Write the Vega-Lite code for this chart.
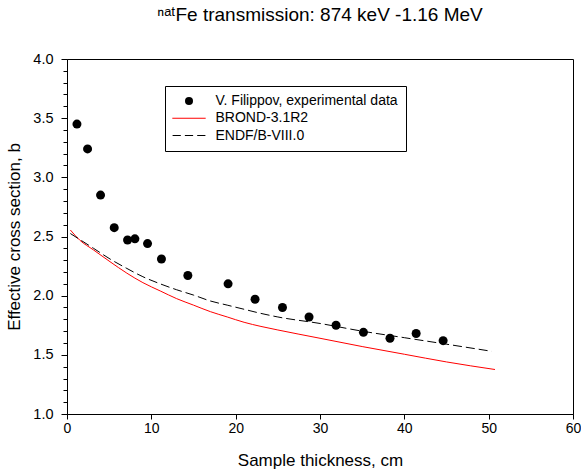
{
  "$schema": "https://vega.github.io/schema/vega-lite/v6.json",
  "autosize": "none",
  "width": 506,
  "height": 355,
  "padding": {"left": 67, "top": 59, "right": 8, "bottom": 57},
  "background": "white",
  "config": {
    "font": "Liberation Sans",
    "view": {"stroke": "black", "strokeWidth": 1},
    "axis": {"grid": false, "domainColor": "black", "tickColor": "black", "labelColor": "black", "titleColor": "black", "labelFont": "Liberation Sans", "titleFont": "Liberation Sans", "titleFontWeight": "normal", "labelFontSize": 14.5, "titleFontSize": 17, "domainWidth": 1, "tickWidth": 1}
  },
  "title": {"text": "ⁿᵃᵗFe transmission: 874 keV -1.16 MeV", "fontSize": 19, "font": "Liberation Sans", "fontWeight": "normal", "color": "black", "anchor": "middle", "frame": "group", "offset": 26},
  "data": {"values": [
    {"series": "V. Filippov, experimental data", "t": 1.18, "sigma": 3.45},
    {"series": "V. Filippov, experimental data", "t": 2.44, "sigma": 3.24},
    {"series": "V. Filippov, experimental data", "t": 3.98, "sigma": 2.85},
    {"series": "V. Filippov, experimental data", "t": 5.6, "sigma": 2.575},
    {"series": "V. Filippov, experimental data", "t": 7.18, "sigma": 2.47},
    {"series": "V. Filippov, experimental data", "t": 8.05, "sigma": 2.48},
    {"series": "V. Filippov, experimental data", "t": 9.55, "sigma": 2.44},
    {"series": "V. Filippov, experimental data", "t": 11.2, "sigma": 2.31},
    {"series": "V. Filippov, experimental data", "t": 14.33, "sigma": 2.17},
    {"series": "V. Filippov, experimental data", "t": 19.1, "sigma": 2.1},
    {"series": "V. Filippov, experimental data", "t": 22.3, "sigma": 1.97},
    {"series": "V. Filippov, experimental data", "t": 25.55, "sigma": 1.9},
    {"series": "V. Filippov, experimental data", "t": 28.7, "sigma": 1.82},
    {"series": "V. Filippov, experimental data", "t": 31.9, "sigma": 1.75},
    {"series": "V. Filippov, experimental data", "t": 35.15, "sigma": 1.69},
    {"series": "V. Filippov, experimental data", "t": 38.3, "sigma": 1.64},
    {"series": "V. Filippov, experimental data", "t": 41.4, "sigma": 1.68},
    {"series": "V. Filippov, experimental data", "t": 44.6, "sigma": 1.62},
    {"series": "BROND-3.1R2", "t": 0.4, "sigma": 2.555},
    {"series": "BROND-3.1R2", "t": 1.5, "sigma": 2.47},
    {"series": "BROND-3.1R2", "t": 3.15, "sigma": 2.386},
    {"series": "BROND-3.1R2", "t": 5.1, "sigma": 2.287},
    {"series": "BROND-3.1R2", "t": 7.1, "sigma": 2.19},
    {"series": "BROND-3.1R2", "t": 9.0, "sigma": 2.11},
    {"series": "BROND-3.1R2", "t": 11.05, "sigma": 2.04},
    {"series": "BROND-3.1R2", "t": 13.0, "sigma": 1.975},
    {"series": "BROND-3.1R2", "t": 15.0, "sigma": 1.92},
    {"series": "BROND-3.1R2", "t": 17.0, "sigma": 1.865},
    {"series": "BROND-3.1R2", "t": 19.0, "sigma": 1.82},
    {"series": "BROND-3.1R2", "t": 21.0, "sigma": 1.775},
    {"series": "BROND-3.1R2", "t": 23.0, "sigma": 1.74},
    {"series": "BROND-3.1R2", "t": 25.0, "sigma": 1.71},
    {"series": "BROND-3.1R2", "t": 30.0, "sigma": 1.64},
    {"series": "BROND-3.1R2", "t": 35.0, "sigma": 1.57},
    {"series": "BROND-3.1R2", "t": 40.0, "sigma": 1.505},
    {"series": "BROND-3.1R2", "t": 45.0, "sigma": 1.44},
    {"series": "BROND-3.1R2", "t": 50.75, "sigma": 1.376},
    {"series": "ENDF/B-VIII.0", "t": 0.4, "sigma": 2.525},
    {"series": "ENDF/B-VIII.0", "t": 3.15, "sigma": 2.4},
    {"series": "ENDF/B-VIII.0", "t": 5.1, "sigma": 2.31},
    {"series": "ENDF/B-VIII.0", "t": 7.1, "sigma": 2.23},
    {"series": "ENDF/B-VIII.0", "t": 9.0, "sigma": 2.16},
    {"series": "ENDF/B-VIII.0", "t": 11.05, "sigma": 2.1},
    {"series": "ENDF/B-VIII.0", "t": 13.0, "sigma": 2.05},
    {"series": "ENDF/B-VIII.0", "t": 15.0, "sigma": 2.005},
    {"series": "ENDF/B-VIII.0", "t": 17.0, "sigma": 1.955},
    {"series": "ENDF/B-VIII.0", "t": 19.0, "sigma": 1.92},
    {"series": "ENDF/B-VIII.0", "t": 21.0, "sigma": 1.885},
    {"series": "ENDF/B-VIII.0", "t": 23.0, "sigma": 1.85},
    {"series": "ENDF/B-VIII.0", "t": 25.0, "sigma": 1.82},
    {"series": "ENDF/B-VIII.0", "t": 30.0, "sigma": 1.765},
    {"series": "ENDF/B-VIII.0", "t": 35.0, "sigma": 1.7},
    {"series": "ENDF/B-VIII.0", "t": 40.0, "sigma": 1.645},
    {"series": "ENDF/B-VIII.0", "t": 45.0, "sigma": 1.59},
    {"series": "ENDF/B-VIII.0", "t": 50.35, "sigma": 1.53}
  ]},
  "encoding": {
    "x": {"field": "t", "type": "quantitative", "scale": {"domain": [0, 60], "nice": false, "zero": false},
      "axis": {"title": "Sample thickness, cm", "values": [0, 10, 20, 30, 40, 50, 60], "tickSize": 5, "labelPadding": 2, "titlePadding": 17, "labelFlush": false, "labelFontSize": 14}},
    "y": {"field": "sigma", "type": "quantitative", "scale": {"domain": [1, 4], "nice": false, "zero": false},
      "axis": {"title": "Effective cross section, b", "values": [1.0, 1.1, 1.2, 1.3, 1.4, 1.5, 1.6, 1.7, 1.8, 1.9, 2.0, 2.1, 2.2, 2.3, 2.4, 2.5, 2.6, 2.7, 2.8, 2.9, 3.0, 3.1, 3.2, 3.3, 3.4, 3.5, 3.6, 3.7, 3.8, 3.9, 4.0],
        "labelExpr": "round(datum.value*10) % 5 == 0 ? format(datum.value, '.1f') : ''",
        "tickSize": {"condition": {"test": "round(datum.value*10) % 5 == 0", "value": 6}, "value": 4},
        "labelPadding": 8, "titlePadding": 9, "labelOverlap": false, "labelFlush": false}}
  },
  "layer": [
    {
      "transform": [{"filter": "datum.series == 'BROND-3.1R2'"}],
      "mark": {"type": "line", "color": "#ff0000", "strokeWidth": 1, "interpolate": "monotone"}
    },
    {
      "transform": [{"filter": "datum.series == 'ENDF/B-VIII.0'"}],
      "mark": {"type": "line", "color": "black", "strokeWidth": 1, "strokeDash": [9, 4], "interpolate": "monotone"}
    },
    {
      "transform": [{"filter": "datum.series == 'V. Filippov, experimental data'"}],
      "mark": {"type": "point", "filled": true, "size": 81, "opacity": 1},
      "encoding": {
        "color": {"field": "series", "type": "nominal",
          "scale": {"domain": ["V. Filippov, experimental data", "BROND-3.1R2", "ENDF/B-VIII.0"], "range": ["black", "#ff0000", "black"]},
          "legend": {"title": null, "orient": "none", "legendX": 98, "legendY": 27, "strokeColor": "black", "fillColor": "white", "padding": 8, "cornerRadius": 0, "labelFontSize": 14, "labelFont": "Liberation Sans", "labelColor": "black", "symbolSize": 64, "symbolOffset": 9, "labelOffset": 19.5, "rowPadding": 3.3, "symbolStrokeWidth": 0, "symbolOpacity": 1, "labelLimit": 400}},
        "shape": {"field": "series", "type": "nominal",
          "scale": {"domain": ["V. Filippov, experimental data", "BROND-3.1R2", "ENDF/B-VIII.0"], "range": ["circle", "M-4.17,-0.13H4.17V0.13H-4.17Z", "M-4.1,-0.13H-2.05V0.13H-4.1ZM-1.03,-0.13H1.03V0.13H-1.03ZM2.05,-0.13H4.1V0.13H2.05Z"]},
          "legend": {"title": null, "orient": "none", "legendX": 98, "legendY": 27, "strokeColor": "black", "fillColor": "white", "padding": 8, "cornerRadius": 0, "labelFontSize": 14, "labelFont": "Liberation Sans", "labelColor": "black", "symbolSize": 64, "symbolOffset": 9, "labelOffset": 19.5, "rowPadding": 3.3, "symbolStrokeWidth": 0, "symbolOpacity": 1, "labelLimit": 400}}
      }
    }
  ]
}
